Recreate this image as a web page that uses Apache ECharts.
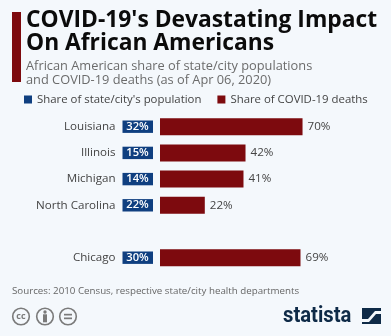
<!DOCTYPE html>
<html><head><meta charset="utf-8">
<style>html,body{margin:0;padding:0;background:#f4f8fc}#c{width:391px;height:336px}</style>
<script src="https://cdn.jsdelivr.net/npm/echarts@6/dist/echarts.min.js"></script>
</head><body><div id="c"></div>
<script>
const categories = ['Louisiana','Illinois','Michigan','North Carolina','','Chicago'];
const populationShare = [32,15,14,22,null,30];
const deathShare = [70,42,41,22,null,69];
const FONT = '"Open Sans"';
const NAVY = '#0f3f80', RED = '#7d0a0e';
const chart = echarts.init(document.getElementById('c'), null, {renderer:'canvas'});
chart.setOption({
  animation:false,
  backgroundColor:'#f4f8fc',
  textStyle:{fontFamily:FONT},
  title:{
    text:"COVID-19's Devastating Impact\nOn African Americans",
    subtext:"African American share of state/city populations\nand COVID-19 deaths (as of Apr 06, 2020)",
    left:26, top:9.5, padding:0, itemGap:3.5,
    textStyle:{fontFamily:FONT,fontWeight:700,fontSize:22.8,lineHeight:23,color:'#0b0b0b'},
    subtextStyle:{fontFamily:FONT,fontSize:12.8,lineHeight:14,color:'#6b6b6b'}
  },
  legend:{
    left:24, top:94, padding:0, itemWidth:8, itemHeight:8, itemGap:16,
    icon:'rect',
    itemStyle:{borderWidth:0},
    data:["Share of state/city's population","Share of COVID-19 deaths"],
    textStyle:{fontFamily:FONT,fontSize:11.4,color:'#444'}
  },
  grid:{left:160,top:113.6,width:162.9,height:157.2,containLabel:false},
  xAxis:{type:'value',min:0,max:80,show:false},
  yAxis:{type:'category',inverse:true,data:categories,
    axisLine:{show:false},axisTick:{show:false},
    axisLabel:{margin:44.5,fontFamily:FONT,fontSize:11.6,color:'#444',interval:0}},
  series:[
    {name:"Share of COVID-19 deaths",type:'bar',data:deathShare,barWidth:17,
     itemStyle:{color:RED},
     label:{show:true,position:'right',distance:5,formatter:p=>p.value+'%',fontFamily:FONT,fontSize:11.6,color:'#444'}},
    {name:"Share of state/city's population",type:'custom',clip:false,
     itemStyle:{color:NAVY},
     data:populationShare.map((v,i)=>[v,i]),
     encode:{x:-1,y:1},
     renderItem:(params,api)=>{
       const v=api.value(0);
       if(v===null||isNaN(v))return null;
       const pt=api.coord([0,api.value(1)]);
       return {type:'group',children:[
         {type:'rect',shape:{x:pt[0]-37.5,y:pt[1]-6.2,width:30.5,height:12.4},style:{fill:NAVY}},
         {type:'text',style:{x:pt[0]-22.5,y:pt[1]-0.2,text:v+'%',align:'center',verticalAlign:'middle',fill:'#fff',font:'600 11.2px '+FONT}}
       ]};
     }}
  ],
  graphic:[
    {type:'rect',shape:{x:12,y:12,width:9,height:70},style:{fill:RED}},
    {type:'text',style:{x:12,y:286,text:'Sources: 2010 Census, respective state/city health departments',font:'9.75px '+FONT,fill:'#666',verticalAlign:'top'}},
    {type:'circle',shape:{cx:21,cy:316.5,r:8.3},style:{fill:'none',stroke:'#7a7a7a',lineWidth:1.6}},
    {type:'text',style:{x:21,y:316.5,text:'cc',font:'700 9px '+FONT,fill:'#7a7a7a',align:'center',verticalAlign:'middle'}},
    {type:'circle',shape:{cx:45,cy:316.5,r:8.3},style:{fill:'none',stroke:'#7a7a7a',lineWidth:1.6}},
    {type:'circle',shape:{cx:45,cy:312,r:1.7},style:{fill:'#7a7a7a'}},
    {type:'rect',shape:{x:43,y:314.3,width:4,height:8},style:{fill:'#7a7a7a'}},
    {type:'circle',shape:{cx:68,cy:316.5,r:8.3},style:{fill:'none',stroke:'#7a7a7a',lineWidth:1.6}},
    {type:'rect',shape:{x:64,y:313.8,width:8,height:1.7},style:{fill:'#7a7a7a'}},
    {type:'rect',shape:{x:64,y:317.5,width:8,height:1.7},style:{fill:'#7a7a7a'}},
    {type:'text',x:283,y:316,scaleX:0.92,style:{x:0,y:0,text:'statista',font:'700 22px Roboto',fill:'#0e2a47',verticalAlign:'middle'}},
    {type:'polygon',shape:{points:[[362,308],[381,308],[381,324],[362,324]]},style:{fill:'#0e2a47'}},
    {type:'polygon',shape:{points:[[362,319],[368,319],[375,311],[381,311],[381,314],[376,314],[369,322],[362,322]]},style:{fill:'#f4f8fc'}}
  ]
});
</script></body></html>
